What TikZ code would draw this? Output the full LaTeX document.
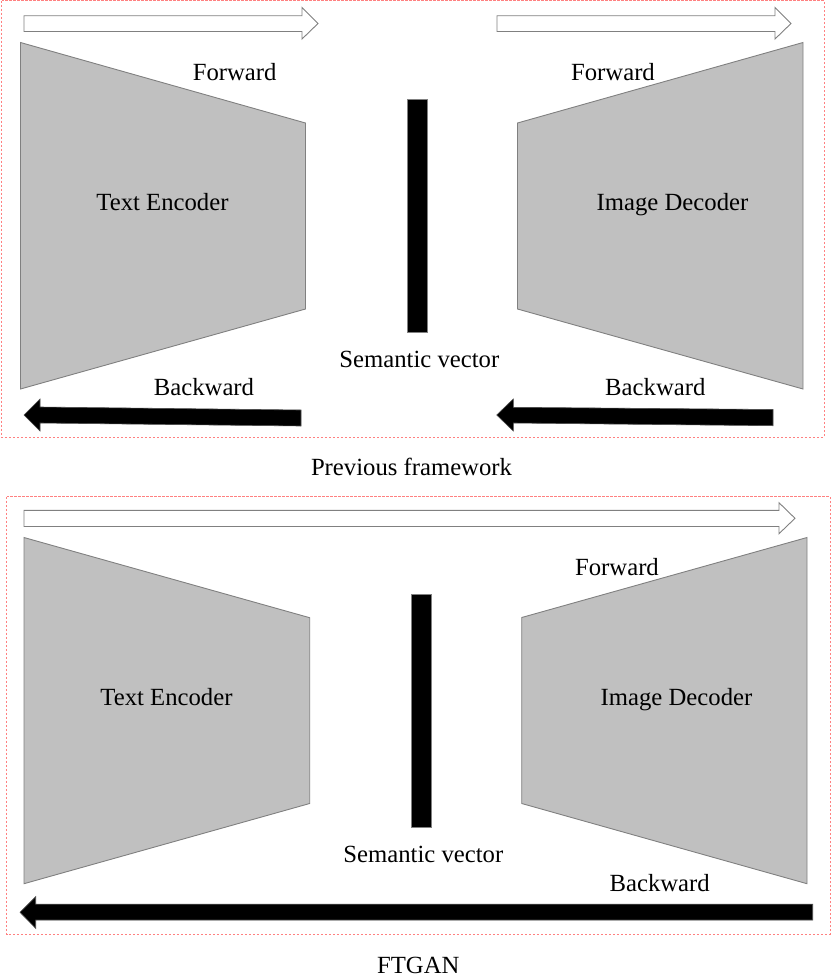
\documentclass[tikz,border=0pt]{standalone}
\usepackage{fontspec}
\setmainfont{Liberation Serif}
\definecolor{panelred}{HTML}{FF8080}
\definecolor{shapegray}{HTML}{C0C0C0}
\definecolor{edgegray}{HTML}{808080}
\begin{document}
\begin{tikzpicture}[x=1pt,y=-1pt,
  lbl/.style={anchor=base,inner sep=0pt,font=\fontsize{24.7}{29}\selectfont},
  panel/.style={draw=panelred,line width=0.8pt,dash pattern=on 2.5pt off 1.5pt},
  coder/.style={fill=shapegray,draw=edgegray,line width=0.9pt},
  fwdarrow/.style={fill=white,draw=edgegray,line width=0.9pt},
  bwdarrow/.style={fill=black,draw=black!70,line width=0.6pt},
  vecbar/.style={fill=black,draw=edgegray,line width=0.5pt}]
\useasboundingbox (0,0) rectangle (831,978);

% ---------- Panel 1: Previous framework ----------
\draw[panel] (1.5,0.7) rectangle (824,437.3);
% forward outline arrows
\draw[fwdarrow] (24,15.7) -- (302,15.7) -- (302,7.5) -- (318,23.5) -- (302,39) -- (302,31.5) -- (24,31.5) -- cycle;
\draw[fwdarrow] (497,15.7) -- (775,15.7) -- (775,7.5) -- (791,23.5) -- (775,39) -- (775,31.5) -- (497,31.5) -- cycle;
% encoder / decoder
\draw[coder] (20.5,42.5) -- (305.5,123) -- (305.5,309) -- (20.5,389) -- cycle;
\draw[coder] (517.5,123) -- (803,42.5) -- (803,389) -- (517.5,309) -- cycle;
% semantic vector bar
\draw[vecbar] (407.5,99.5) rectangle (427.5,332);
% backward arrows
\draw[bwdarrow] (301,410) -- (40,407) -- (40,399) -- (24,415) -- (40,431) -- (40,423) -- (301,426) -- cycle;
\draw[bwdarrow] (773,409.5) -- (513.3,407.3) -- (513.3,399) -- (496.7,415) -- (513.3,431) -- (513.3,423) -- (773,425.7) -- cycle;
% labels
\node[lbl] (fwdA) at (234.7,80) {Forward};
\node[lbl] (fwdB) at (613,80) {Forward};
\node[lbl] (encA) at (162.5,210.5) {Text Encoder};
\node[lbl] (decA) at (672.5,210.5) {Image Decoder};
\node[lbl] (semA) at (419.3,367.3) {Semantic vector};
\node[lbl] (bwdA) at (204,395.7) {Backward};
\node[lbl] (bwdB) at (655.3,395.7) {Backward};
\node[lbl] (capA) at (411.5,475) {Previous framework};

% ---------- Panel 2: FTGAN ----------
\draw[panel] (6.5,496.7) rectangle (830,934.3);
\draw[fwdarrow] (24,510.3) -- (779,510.3) -- (779,502.7) -- (795,518.3) -- (779,533.7) -- (779,526.5) -- (24,526.5) -- cycle;
\draw[coder] (24,537.5) -- (309.7,617.7) -- (309.7,803.5) -- (24,883.7) -- cycle;
\draw[coder] (521.7,617.5) -- (807,537.5) -- (807,883.7) -- (521.7,803.5) -- cycle;
\draw[vecbar] (411.7,594.5) rectangle (431.7,827);
\draw[bwdarrow] (812.7,904.2) -- (35.7,904.2) -- (35.7,896.7) -- (20,912.3) -- (35.7,928.3) -- (35.7,920) -- (812.7,920) -- cycle;
\node[lbl] (fwdC) at (617,575) {Forward};
\node[lbl] (encC) at (166.5,705.5) {Text Encoder};
\node[lbl] (decC) at (676.5,705.5) {Image Decoder};
\node[lbl] (semC) at (423.3,862.7) {Semantic vector};
\node[lbl] (bwdC) at (659.7,891.7) {Backward};
\node[lbl] (capC) at (418.3,973.5) {FTGAN};
\end{tikzpicture}
\end{document}
